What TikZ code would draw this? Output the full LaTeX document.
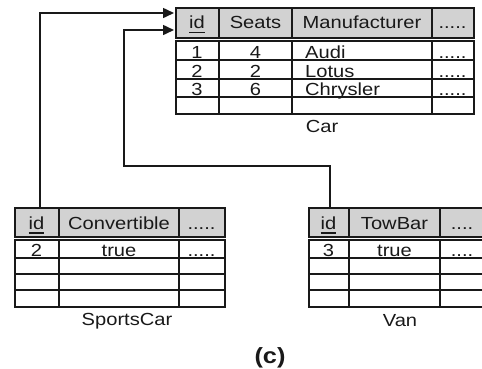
\documentclass[tikz,border=0pt]{standalone}
\usepackage{fontspec}
\setmainfont{Liberation Sans}[FakeStretch=1.15]
\usetikzlibrary{arrows.meta}
\definecolor{headfill}{RGB}{210,210,210}
\definecolor{ink}{RGB}{25,25,25}
% primary-key underline, drawn as a rule under the text
\newcommand{\keyfield}[1]{\setbox0\hbox{#1}\rlap{\rule[-4.6pt]{\wd0}{1.4pt}}\box0}

\begin{document}
\begin{tikzpicture}[x=1pt,y=-1pt,
  every node/.style={inner sep=0pt, text=ink, font=\fontsize{17.5}{20}\selectfont},
  headbox/.style={rectangle, draw=ink, fill=headfill, line width=2.2pt, anchor=north west},
  bodybox/.style={rectangle, draw=ink, fill=white, line width=2.2pt, anchor=north west},
  gridline/.style={draw=ink, line width=1.8pt},
  cell/.style={anchor=base},
  lcell/.style={anchor=base west},
  caption/.style={anchor=base},
  link/.style={draw=ink, line width=1.5pt, shorten >=1pt, -{Triangle[length=11pt,width=10pt]}}
]
\useasboundingbox (0,0) rectangle (482,368);
\clip (0,0) rectangle (482,368);

% ---------------- Car ----------------
\node[headbox, minimum width=298pt, minimum height=30pt] (carHead) at (175,7) {};
\node[bodybox, minimum width=298pt, minimum height=73pt] (carBody) at (175,40) {};
\draw[gridline] (219,7) -- (219,37) (292,7) -- (292,37) (432,7) -- (432,37);
\draw[gridline] (219,40) -- (219,113) (292,40) -- (292,113) (432,40) -- (432,113);
\draw[gridline] (175,60) -- (473,60) (175,79) -- (473,79) (175,97) -- (473,97);

\node[cell] (carH1) at (197,28.5) {\keyfield{id}};
\node[cell] (carH2) at (255.5,28.5) {Seats};
\node[cell] (carH3) at (362,28.5) {Manufacturer};
\node[cell] (carH4) at (452.5,28.5) {.....};

\node[cell]  (carA1) at (197,58.5) {1};
\node[cell]  (carA2) at (255.5,58.5) {4};
\node[lcell] (carA3) at (305,58.5) {Audi};
\node[cell]  (carA4) at (452.5,58.5) {.....};
\node[cell]  (carB1) at (197,77) {2};
\node[cell]  (carB2) at (255.5,77) {2};
\node[lcell] (carB3) at (305,77) {Lotus};
\node[cell]  (carB4) at (452.5,77) {.....};
\node[cell]  (carC1) at (197,95) {3};
\node[cell]  (carC2) at (255.5,95) {6};
\node[lcell] (carC3) at (305,95) {Chrysler};
\node[cell]  (carC4) at (452.5,95) {.....};

\node[caption] (carName) at (322,132) {Car};

% ---------------- SportsCar ----------------
\node[headbox, minimum width=210pt, minimum height=29pt] (scHead) at (14,207) {};
\node[bodybox, minimum width=210pt, minimum height=67pt] (scBody) at (14,239) {};
\draw[gridline] (59,207) -- (59,236) (179,207) -- (179,236);
\draw[gridline] (59,239) -- (59,306) (179,239) -- (179,306);
\draw[gridline] (14,258) -- (224,258) (14,274) -- (224,274) (14,290) -- (224,290);

\node[cell] (scH1) at (36.5,229) {\keyfield{id}};
\node[cell] (scH2) at (119,229) {Convertible};
\node[cell] (scH3) at (201.5,229) {.....};
\node[cell] (scA1) at (36.5,256.5) {2};
\node[cell] (scA2) at (119,256.5) {true};
\node[cell] (scA3) at (201.5,256.5) {.....};

\node[caption] (scName) at (127,325) {SportsCar};

% ---------------- Van ----------------
\node[headbox, minimum width=182pt, minimum height=29pt] (vanHead) at (308,207) {};
\node[bodybox, minimum width=182pt, minimum height=67pt] (vanBody) at (308,239) {};
\draw[gridline] (349,207) -- (349,236) (440,207) -- (440,236);
\draw[gridline] (349,239) -- (349,306) (440,239) -- (440,306);
\draw[gridline] (308,258) -- (490,258) (308,274) -- (490,274) (308,290) -- (490,290);

\node[cell] (vanH1) at (328.5,229) {\keyfield{id}};
\node[cell] (vanH2) at (394.5,229) {TowBar};
\node[cell] (vanH3) at (462,229) {....};
\node[cell] (vanA1) at (328.5,256.5) {3};
\node[cell] (vanA2) at (394.5,256.5) {true};
\node[cell] (vanA3) at (462,256.5) {....};

\node[caption] (vanName) at (400,326) {Van};

% ---------------- inheritance links ----------------
\coordinate (vanElbow) at (124,166);
\draw[link] ([xshift=26pt]scHead.north west) |- ([yshift=-6pt]carHead.north west);
\draw[link] ([xshift=22pt]vanHead.north west) |- (vanElbow) |- ([yshift=-23pt]carHead.north west);

\node[caption, font=\fontsize{22}{24}\selectfont\bfseries] (label) at (270,363) {(c)};
\end{tikzpicture}
\end{document}
